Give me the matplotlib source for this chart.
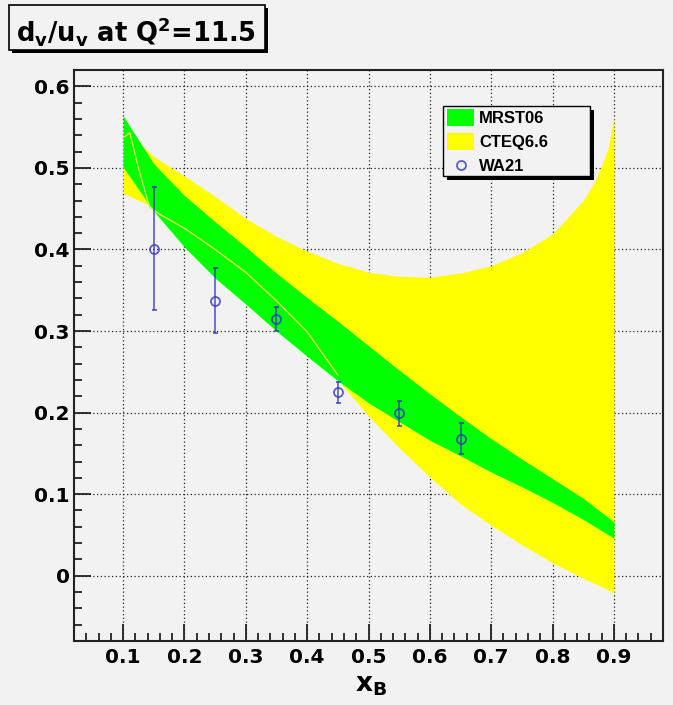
import matplotlib
matplotlib.use('Agg')
import matplotlib.pyplot as plt
from matplotlib.patches import Rectangle
from matplotlib.lines import Line2D
from matplotlib.ticker import MultipleLocator, FuncFormatter

# MRST06 band (green)
x_mrst = [0.10, 0.15, 0.20, 0.25, 0.30, 0.35, 0.40, 0.45, 0.50,
          0.55, 0.60, 0.65, 0.70, 0.75, 0.80, 0.85, 0.90]
mrst_hi = [0.564, 0.505, 0.466, 0.434, 0.403, 0.371, 0.341, 0.312, 0.282,
           0.252, 0.223, 0.195, 0.168, 0.143, 0.119, 0.095, 0.066]
mrst_lo = [0.501, 0.447, 0.403, 0.365, 0.333, 0.300, 0.269, 0.239, 0.212,
           0.189, 0.166, 0.147, 0.127, 0.109, 0.090, 0.069, 0.046]

# CTEQ6.6 band (yellow)
x_cteq = [0.10, 0.12, 0.15, 0.20, 0.25, 0.30, 0.35, 0.40, 0.45, 0.50,
          0.55, 0.60, 0.65, 0.70, 0.75, 0.80, 0.85, 0.87, 0.89, 0.90]
cteq_hi = [0.548, 0.535, 0.514, 0.490, 0.465, 0.438, 0.416, 0.398, 0.383, 0.372,
           0.367, 0.366, 0.371, 0.380, 0.396, 0.419, 0.460, 0.485, 0.522, 0.563]
cteq_lo = [0.469, 0.462, 0.452, 0.424, 0.400, 0.371, 0.336, 0.296, 0.240, 0.196,
           0.157, 0.121, 0.088, 0.062, 0.038, 0.016, -0.003, -0.010, -0.017, -0.021]

# thin light line
x_line = [0.10, 0.111, 0.125, 0.143, 0.16, 0.20, 0.25, 0.30, 0.35, 0.40, 0.45]
y_line = [0.537, 0.543, 0.500, 0.452, 0.443, 0.426, 0.400, 0.372, 0.337, 0.299, 0.246]

# WA21 data
x_wa21 = [0.15, 0.25, 0.35, 0.45, 0.55, 0.65]
y_wa21 = [0.401, 0.337, 0.315, 0.225, 0.199, 0.168]
e_wa21 = [0.075, 0.040, 0.015, 0.013, 0.015, 0.019]

W, H = 673, 705
bg = '#f2f2f2'
plt.rcParams['mathtext.fontset'] = 'dejavusans'
plt.rcParams['mathtext.default'] = 'bf'

fig = plt.figure(figsize=(W / 100, H / 100), dpi=100, facecolor=bg)
def fx(px):
    return px / W
def fy(py):
    return 1 - py / H

ax = fig.add_axes([fx(74), fy(641), fx(663) - fx(74), fy(70) - fy(641)])
ax.set_facecolor(bg)
ax.set_axisbelow(True)

ax.fill_between(x_cteq, cteq_lo, cteq_hi, color='#ffff00', lw=0, zorder=2)
ax.fill_between(x_mrst, mrst_lo, mrst_hi, color='#00ff00', lw=0, zorder=3)
ax.plot(x_line, y_line, color='#d9ec55', lw=1.0, zorder=4)
ax.errorbar(x_wa21, y_wa21, yerr=e_wa21, fmt='o', mfc='none', mec='#3535c0',
            ecolor='#3535c0', ms=6.5, mew=1.3, elinewidth=1.2, capsize=1.8,
            capthick=1.2, alpha=0.8, zorder=5)

ax.set_xlim(0.02, 0.98)
ax.set_ylim(-0.08, 0.62)
ax.xaxis.set_major_locator(MultipleLocator(0.1))
ax.xaxis.set_minor_locator(MultipleLocator(0.02))
ax.yaxis.set_major_locator(MultipleLocator(0.1))
ax.yaxis.set_minor_locator(MultipleLocator(0.02))
fmt = FuncFormatter(lambda v, p: '0' if abs(v) < 1e-9 else '%.1f' % v)
ax.xaxis.set_major_formatter(fmt)
ax.yaxis.set_major_formatter(fmt)
ax.tick_params(which='both', direction='in', width=1.3, color='#222222',
               top=False, right=False)
ax.tick_params(which='major', length=12, labelsize=14.5)
ax.tick_params(which='minor', length=6)
ax.tick_params(axis='y', pad=3)
ax.tick_params(axis='x', pad=5)
for lab in ax.get_xticklabels() + ax.get_yticklabels():
    lab.set_fontweight('bold')
for s in ax.spines.values():
    s.set_linewidth(1.5)
    s.set_color('#222222')
ax.grid(True, which='major', color='#222222', linestyle=(0, (1, 2)), lw=0.9)

fig.text(fx(371), fy(692), r'x$_B$', ha='center', va='baseline',
         fontsize=19, fontweight='bold')

# title box with shadow
fig.patches.append(Rectangle((fx(12), fy(53)), fx(256), fy(5) - fy(50),
                             transform=fig.transFigure, fc='black', ec='none'))
fig.patches.append(Rectangle((fx(9), fy(50)), fx(256), fy(5) - fy(50),
                             transform=fig.transFigure, fc=bg, ec='black', lw=1.2))
fig.text(fx(16), fy(42), r'd$_v$/u$_v$ at Q$^2$=11.5', ha='left', va='baseline',
         fontsize=18.5, fontweight='bold')

# legend with shadow
fig.patches.append(Rectangle((fx(447), fy(180)), fx(147), fy(106) - fy(176),
                             transform=fig.transFigure, fc='black', ec='none'))
fig.patches.append(Rectangle((fx(443), fy(176)), fx(147), fy(106) - fy(176),
                             transform=fig.transFigure, fc=bg, ec='black', lw=1.0))
names = ['MRST06', 'CTEQ6.6', 'WA21']
rows = [117, 141, 165]
fig.patches.append(Rectangle((fx(447), fy(126)), fx(27), fy(109) - fy(126),
                             transform=fig.transFigure, fc='#00ff00', ec='none'))
fig.patches.append(Rectangle((fx(447), fy(150)), fx(27), fy(133) - fy(150),
                             transform=fig.transFigure, fc='#ffff00', ec='none'))
fig.lines.append(Line2D([fx(461)], [fy(165)], transform=fig.transFigure, marker='o',
                        ms=6.5, mfc='none', mec='#3535c0', mew=1.3, alpha=0.8))
for name, r in zip(names, rows):
    fig.text(fx(479), fy(r), name, ha='left', va='center_baseline',
             fontsize=12, fontweight='bold', family='Liberation Sans')

plt.savefig('out.png', dpi=100, facecolor=bg)
